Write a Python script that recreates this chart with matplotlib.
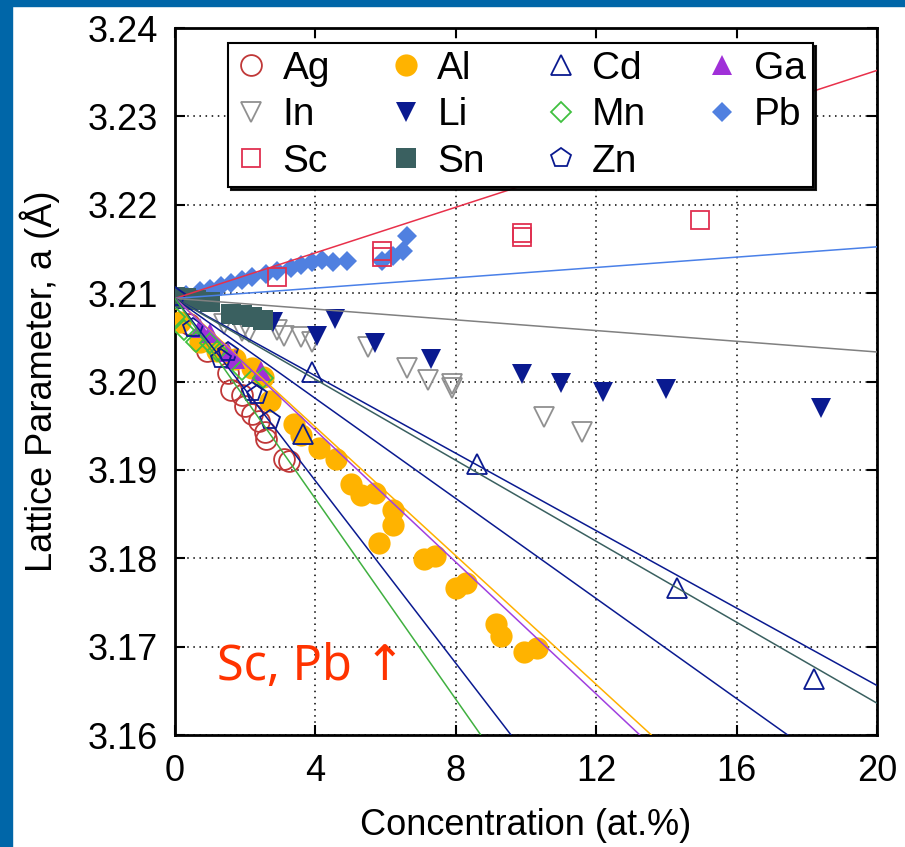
import matplotlib
matplotlib.use('Agg')
import matplotlib.pyplot as plt
from matplotlib.patches import Rectangle
import numpy as np

plt.rcParams['font.family'] = ['Liberation Sans', 'DejaVu Sans']

ag_x = [0, 0.4, 0.9, 1.5, 1.6, 1.9, 2.0, 2.2, 2.4, 2.55, 2.6, 3.1, 3.25]
ag_y = [3.2095, 3.2065, 3.2035, 3.2010, 3.1990, 3.1985, 3.1972, 3.1963, 3.1955, 3.1943, 3.1935, 3.1912, 3.1910]

al_x = [0, 0.15, 0.7, 1.2, 1.7, 2.2, 2.5, 2.7, 3.4, 3.6, 4.1, 4.6, 5.0, 5.3, 5.7,
        6.2, 6.2, 5.8, 7.1, 7.4, 8.0, 8.3, 9.15, 9.3, 9.95, 10.3]
al_y = [3.2095, 3.2067, 3.2045, 3.2035, 3.2025, 3.2015, 3.2005, 3.1978, 3.1952, 3.1940,
        3.1925, 3.1912, 3.1884, 3.1872, 3.1874, 3.1855, 3.1838, 3.1817, 3.1799, 3.1803,
        3.1766, 3.1772, 3.1726, 3.1712, 3.1694, 3.1699]

cd_x = [0, 3.65, 3.9, 8.6, 14.3, 18.2]
cd_y = [3.2094, 3.1941, 3.2011, 3.1907, 3.1766, 3.1663]

ga_x = [0, 0.7, 1.0, 1.5, 1.7, 2.45]
ga_y = [3.2094, 3.2061, 3.2055, 3.2033, 3.2025, 3.2012]

in_x = [1.4, 1.9, 2.1, 2.9, 3.1, 3.6, 3.9, 5.5, 6.6, 7.2, 7.9, 7.9, 10.5, 11.6]
in_y = [3.2065, 3.2057, 3.2056, 3.2058, 3.2052, 3.2050, 3.2045, 3.2039, 3.2015,
        3.2002, 3.1997, 3.1993, 3.1960, 3.1943]

li_x = [2.8, 4.05, 4.55, 5.7, 7.3, 9.9, 11.0, 12.2, 14.0, 18.4]
li_y = [3.2067, 3.2051, 3.2071, 3.2043, 3.2026, 3.2008, 3.1998, 3.1988, 3.1992, 3.1970]

mn_x = [0, 0.25, 0.6, 1.0, 1.2, 1.9, 2.5]
mn_y = [3.2073, 3.2058, 3.2045, 3.2043, 3.2035, 3.2013, 3.2004]

pb_x = [0, 0.3, 0.7, 1.0, 1.3, 1.6, 1.9, 2.2, 2.6, 2.9, 3.3, 3.6, 3.9, 4.2, 4.5,
        4.9, 5.9, 6.2, 6.5, 6.6]
pb_y = [3.2095, 3.2098, 3.2102, 3.2105, 3.2108, 3.2112, 3.2115, 3.2118, 3.2122, 3.2125,
        3.2128, 3.2132, 3.2135, 3.2138, 3.2135, 3.2136, 3.2136, 3.2142, 3.2148, 3.2165]

sc_x = [2.9, 5.9, 5.9, 9.9, 9.9, 14.96]
sc_y = [3.2118, 3.2148, 3.2141, 3.2168, 3.2164, 3.2183]

sn_x = [0, 0.3, 0.6, 1.0, 1.6, 1.9, 2.2, 2.5]
sn_y = [3.2096, 3.2094, 3.2092, 3.2090, 3.2076, 3.2075, 3.2073, 3.2070]

zn_x = [0, 0.5, 1.3, 1.5, 2.2, 2.35, 2.7]
zn_y = [3.2096, 3.2060, 3.2026, 3.2033, 3.1988, 3.1985, 3.1956]

# linear fits a = a0 + k*c
a0 = 3.2094
fit_names = ['Sc', 'Pb', 'In', 'Cd', 'Sn', 'Li', 'Al', 'Ga', 'Zn', 'Mn']
fit_slopes = [0.00129, 0.000292, -0.000303, -0.00219, -0.00229, -0.00283,
              -0.00364, -0.00373, -0.00516, -0.00567]

navy = '#0a1a90'
colors = {'Ag': '#c03838', 'Al': '#ffb300', 'Cd': navy, 'Ga': '#a030d8',
          'In': '#909090', 'Li': navy, 'Mn': '#40c040', 'Pb': '#5080e0',
          'Sc': '#e03050', 'Sn': '#3a6060', 'Zn': navy}
line_colors = {'Sc': '#e8304a', 'Pb': '#4a80e8', 'In': '#808080', 'Cd': navy,
               'Sn': '#3a6060', 'Li': navy, 'Al': '#ffb000', 'Ga': '#a040e0',
               'Zn': navy, 'Mn': '#40b040'}

fig = plt.figure(figsize=(9.05, 8.47), dpi=100)
fig.patches.append(Rectangle((0, 0), 12 / 905, 1, transform=fig.transFigure,
                             color='#0066a8', zorder=0))
fig.patches.append(Rectangle((0, 1 - 6 / 847), 1, 6 / 847, transform=fig.transFigure,
                             color='#0066a8', zorder=0))
ax = fig.add_axes([175 / 905, 112 / 847, 702 / 905, 707 / 847])

series = [
    ('Ag', ag_x, ag_y, 'o', 15, False),
    ('Al', al_x, al_y, 'o', 16, True),
    ('Cd', cd_x, cd_y, '^', 14, False),
    ('Ga', ga_x, ga_y, '^', 14, True),
    ('In', in_x, in_y, 'v', 14, False),
    ('Li', li_x, li_y, 'v', 14, True),
    ('Mn', mn_x, mn_y, 'D', 10, False),
    ('Pb', pb_x, pb_y, 'D', 10.5, True),
    ('Sc', sc_x, sc_y, 's', 13, False),
    ('Sn', sn_x, sn_y, 's', 15, True),
    ('Zn', zn_x, zn_y, 'p', 15, False),
]

handles = {}
for name, xs, ys, mk, ms, filled in series:
    c = colors[name]
    h, = ax.plot(xs, ys, linestyle='none', marker=mk, markersize=ms,
                 markerfacecolor=c if filled else 'none', markeredgecolor=c,
                 markeredgewidth=0 if filled else 1.3, label=name, zorder=3)
    handles[name] = h

cx = np.array([0, 20])
for name, k in zip(fit_names, fit_slopes):
    ax.plot(cx, a0 + k * cx, color=line_colors[name], lw=1.1, zorder=4)

ax.set_xlim(0, 20)
ax.set_ylim(3.16, 3.24)
ax.set_xticks([0, 4, 8, 12, 16, 20])
ax.set_yticks(np.arange(3.16, 3.2401, 0.01))
ax.set_yticklabels(['%.2f' % v for v in np.arange(3.16, 3.2401, 0.01)])
ax.grid(True, color='black', linestyle=(0, (1, 3)), lw=1.1)
ax.tick_params(direction='in', length=7, width=1.5, top=True, right=True,
               labelsize=26)
ax.tick_params(axis='x', pad=14)
ax.tick_params(axis='y', pad=12)
for s in ax.spines.values():
    s.set_linewidth(2)

ax.set_xlabel('Concentration (at.%)', fontsize=26, labelpad=13)
ax.set_ylabel('Lattice Parameter, a (Å)', fontsize=26, labelpad=20)

ax.text(1.2, 3.1662, 'Sc, Pb ↑', color='#ff3300', fontsize=35,
        family=['Noto Sans', 'DejaVu Sans'], va='baseline', ha='left', zorder=5)

order = ['Ag', 'In', 'Sc', 'Al', 'Li', 'Sn', 'Cd', 'Mn', 'Zn', 'Ga', 'Pb']
leg = ax.legend([handles[n] for n in order], order, ncol=4, loc='upper left',
                bbox_to_anchor=(0.0755, 0.979), borderaxespad=0, fontsize=28,
                frameon=True, fancybox=False, framealpha=1, edgecolor='black',
                shadow={'color': 'black', 'alpha': 0.9}, handlelength=0.8,
                handletextpad=0.4, columnspacing=1.56, labelspacing=0.27,
                borderpad=0.2)
leg.get_frame().set_linewidth(1.5)
leg.set_zorder(10)

fig.savefig('out.png', dpi=100)
